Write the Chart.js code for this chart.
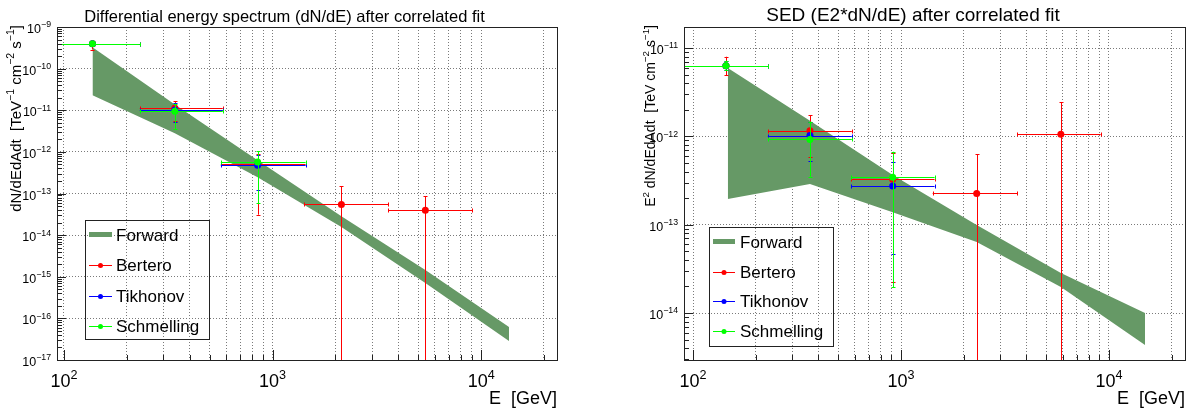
<!DOCTYPE html>
<html>
<head>
<meta charset="utf-8">
<title>Unfolded spectra</title>
<script src="https://cdn.jsdelivr.net/npm/chart.js@4.4.1/dist/chart.umd.min.js"></script>
<style>
  html, body { margin: 0; padding: 0; background: #fff; }
  #wrap { position: relative; width: 1199px; height: 409px; overflow: hidden; }
  #wrap canvas { position: absolute; top: 0; }
  #spec { left: 0; }
  #sed { left: 600px; }
</style>
</head>
<body>
<div id="wrap">
  <canvas id="spec" width="600" height="409"></canvas>
  <canvas id="sed" width="599" height="409"></canvas>
</div>
<script>
// ---------------------------------------------------------------------------
// Data: differential spectrum dN/dE  [TeV^-1 cm^-2 s^-1], energies in GeV
// ---------------------------------------------------------------------------
const specEnergy = [137, 340, 848, 2138, 5400];
const specBinLo  = [92, 231, 565, 1422, 3590];
const specBinHi  = [231, 577, 1440, 3590, 9060];

const specBertero     = [3.95e-10, 1.13e-11, 5.2e-13, 5.45e-14, 3.96e-14];
const specBerteroLo   = [2.88e-10, 5.5e-12, 3.1e-14, 0, 0];
const specBerteroHi   = [4.56e-10, 1.63e-11, 9.1e-13, 1.5e-13, 8.6e-14];
const specTikhonov    = [3.95e-10, 1.02e-11, 4.8e-13];
const specTikhonovLo  = [3.6e-10, 5.2e-12, 1.2e-13];
const specTikhonovHi  = [4.3e-10, 1.47e-11, 8.5e-13];
const specSchmelling   = [3.95e-10, 9.4e-12, 5.7e-13];
const specSchmellingLo = [3.6e-10, 3.6e-12, 5.95e-14];
const specSchmellingHi = [4.35e-10, 1.44e-11, 1.05e-12];

// forward-folded fit band (upper / lower edge)
const specBandE  = [137, 340, 848, 2138, 5400, 13600];
const specBandHi = [3.28e-10, 1.38e-11, 6.3e-13, 2.86e-14, 1.45e-15, 6.2e-17];
const specBandLo = [2.28e-11, 2.79e-12, 2.46e-13, 1.56e-14, 7.1e-16, 2.87e-17];

// ---------------------------------------------------------------------------
// Data: SED  E^2 dN/dE  [TeV cm^-2 s^-1]
// ---------------------------------------------------------------------------
const sedEnergy = [144, 365, 912, 2312, 5870];
const sedBinLo  = [90, 229, 578, 1420, 3625];
const sedBinHi  = [229, 580, 1450, 3625, 9120];

const sedBertero     = [6.3e-12, 1.16e-12, 3.26e-13, 2.26e-13, 1.06e-12];
const sedBerteroLo   = [4.94e-12, 5.8e-13, 2.22e-14, 0, 0];
const sedBerteroHi   = [7.97e-12, 1.74e-12, 6.4e-13, 6.3e-13, 2.43e-12];
const sedTikhonov    = [6.3e-12, 1.02e-12, 2.74e-13];
const sedTikhonovLo  = [5.6e-12, 5.2e-13, 4.6e-14];
const sedTikhonovHi  = [7.1e-12, 1.45e-12, 5.1e-13];
const sedSchmelling   = [6.3e-12, 9.24e-13, 3.44e-13];
const sedSchmellingLo = [5.7e-12, 3.5e-13, 1.95e-14];
const sedSchmellingHi = [7.2e-12, 1.47e-12, 6.7e-13];

const sedBandE  = [147, 365, 912, 2312, 5870, 14900];
const sedBandHi = [5.94e-12, 1.5e-12, 3.65e-13, 9.9e-14, 2.84e-14, 1.0e-14];
const sedBandLo = [1.95e-13, 2.88e-13, 1.38e-13, 6.37e-14, 1.97e-14, 4.35e-15];

// axis decades that get a label
const specDecadesY = [1e-17, 1e-16, 1e-15, 1e-14, 1e-13, 1e-12, 1e-11, 1e-10, 1e-9];
const sedDecadesY  = [1e-14, 1e-13, 1e-12, 1e-11];
const decadesX     = [100, 1000, 10000];

// ---------------------------------------------------------------------------
const FONT = '"Liberation Sans", Arial, Helvetica, sans-serif';
const BAND = 'rgb(102,153,102)';
const RED = '#ff0000', BLUE = '#0000ff', GREEN = '#00ff00';

// 1..9 x 10^n ticks inside [min, max]
function logSteps(min, max) {
    const out = [];
    for (let e = Math.floor(Math.log10(min)); e <= Math.ceil(Math.log10(max)); e++) {
        for (let m = 1; m <= 9; m++) {
            const v = m * Math.pow(10, e);
            if (v >= min * 0.9999 && v <= max * 1.0001) out.push(v);
        }
    }
    return out;
}
const isDecade = v => Math.abs(Math.log10(v) - Math.round(Math.log10(v))) < 1e-6;

// text with superscripts: parts = [[text, isSup], ...]
function runsWidth(ctx, parts, size) {
    let w = 0;
    parts.forEach(([t, sup]) => {
        ctx.font = (sup ? size * 0.7 : size) + 'px ' + FONT;
        w += ctx.measureText(t).width;
    });
    return w;
}
function drawRuns(ctx, parts, x, y, size, align) {
    const w = runsWidth(ctx, parts, size);
    let cx = align === 'right' ? x - w : align === 'center' ? x - w / 2 : x;
    ctx.textAlign = 'left';
    ctx.textBaseline = 'alphabetic';
    parts.forEach(([t, sup]) => {
        ctx.font = (sup ? size * 0.7 : size) + 'px ' + FONT;
        ctx.fillText(t, cx, sup ? y - size * 0.45 : y);
        cx += ctx.measureText(t).width;
    });
}
const powLabel = v => [['10', false], [String(Math.round(Math.log10(v))).replace('-', '\u2212'), true]];

function line(ctx, x0, y0, x1, y1) {
    ctx.beginPath();
    ctx.moveTo(x0, y0);
    ctx.lineTo(x1, y1);
    ctx.stroke();
}
const crisp = v => Math.round(v) + 0.5;

// error bars are drawn just before each point series so its markers sit on top
const errorBars = {
    id: 'errorBars',
    beforeDatasetDraw(chart, args) {
        const ds = chart.data.datasets[args.index];
        if (!ds.errLo) return;
        const { ctx, chartArea: a, scales: { x, y } } = chart;
        ctx.save();
        ctx.beginPath();
        ctx.rect(a.left, a.top, a.right - a.left, a.bottom - a.top);
        ctx.clip();
        ctx.strokeStyle = ds.borderColor;
        ctx.lineWidth = 1;
        ds.data.forEach((p, i) => {
            const px = crisp(x.getPixelForValue(p.x));
            const py = crisp(y.getPixelForValue(p.y));
            const x0 = x.getPixelForValue(ds.binLo[i]);
            const x1 = x.getPixelForValue(ds.binHi[i]);
            const y0 = y.getPixelForValue(ds.errLo[i]);
            const y1 = y.getPixelForValue(ds.errHi[i]);
            line(ctx, x0, py, x1, py);
            line(ctx, px, y0, px, y1);
            line(ctx, crisp(x0), py - 2, crisp(x0), py + 2);
            line(ctx, crisp(x1), py - 2, crisp(x1), py + 2);
            line(ctx, px - 2, crisp(y1), px + 2, crisp(y1));
            line(ctx, px - 2, crisp(y0), px + 2, crisp(y0));
        });
        ctx.restore();
    }
};

// frame, tick marks, labels, titles and the boxed legend
const rootFrame = {
    id: 'rootFrame',
    afterDraw(chart, args, o) {
        const { ctx, chartArea: a, scales: { x, y } } = chart;
        ctx.save();
        ctx.strokeStyle = '#222';
        ctx.fillStyle = '#000';
        ctx.lineWidth = 1;
        ctx.strokeRect(a.left + 0.5, a.top + 0.5, a.right - a.left, a.bottom - a.top);

        // ticks
        logSteps(x.min, x.max).forEach(v => {
            const px = crisp(x.getPixelForValue(v));
            line(ctx, px, a.bottom, px, a.bottom - (isDecade(v) ? 10 : 5));
        });
        logSteps(y.min, y.max).forEach(v => {
            const py = crisp(y.getPixelForValue(v));
            line(ctx, a.left, py, a.left + (isDecade(v) ? 9 : 5), py);
        });

        // tick labels
        o.decadesX.forEach(v => {
            drawRuns(ctx, powLabel(v), x.getPixelForValue(v), a.bottom + 27, 18, 'center');
        });
        o.decadesY.forEach(v => {
            drawRuns(ctx, powLabel(v), a.left - 6, y.getPixelForValue(v) + 6, 12.5, 'right');
        });

        // titles
        drawRuns(ctx, [[o.title, false]], o.titleX, o.titleY, o.titleSize, 'center');
        drawRuns(ctx, [[o.xTitle, false]], a.right, 404, 18, 'right');
        ctx.save();
        ctx.translate(o.yTitleX, 25);
        ctx.rotate(-Math.PI / 2);
        drawRuns(ctx, o.yTitle, 0, 0, o.yTitleSize, 'right');
        ctx.restore();

        // legend
        const L = o.legend;
        ctx.strokeStyle = '#222';
        ctx.strokeRect(crisp(L.x0), crisp(L.y0), Math.round(L.x1 - L.x0), Math.round(L.y1 - L.y0));
        chart.data.datasets.filter(d => d.legendRow !== undefined).forEach(d => {
            const ly = L.rows[d.legendRow];
            if (d.legendBand) {
                ctx.fillStyle = BAND;
                ctx.fillRect(L.sx0, ly - 3, L.sx1 - L.sx0, 5);
            } else {
                ctx.strokeStyle = d.borderColor;
                line(ctx, L.sx0, crisp(ly), L.sx1, crisp(ly));
                ctx.fillStyle = d.borderColor;
                ctx.beginPath();
                ctx.arc((L.sx0 + L.sx1) / 2, ly + 0.5, 2.5, 0, Math.PI * 2);
                ctx.fill();
            }
            ctx.fillStyle = '#000';
            drawRuns(ctx, [[d.label, false]], L.tx, ly + 6, 17, 'left');
        });
        ctx.restore();
    }
};

function pointSeries(label, color, order, row, E, v, lo, hi, binLo, binHi) {
    return {
        label, order, legendRow: row,
        data: E.slice(0, v.length).map((e, i) => ({ x: e, y: v[i] })),
        errLo: lo, errHi: hi,
        binLo, binHi,
        borderColor: color,
        backgroundColor: color,
        pointRadius: 3.5,
        pointBorderWidth: 0,
        showLine: false
    };
}

function bandSeries(E, hi, lo) {
    return [
        {
            label: 'Forward', order: 5, legendRow: 0, legendBand: true,
            data: E.map((e, i) => ({ x: e, y: hi[i] })),
            showLine: true, borderWidth: 0, pointRadius: 0,
            backgroundColor: BAND, fill: '+1'
        },
        {
            label: 'Forward lower', order: 5,
            data: E.map((e, i) => ({ x: e, y: lo[i] })),
            showLine: true, borderWidth: 0, pointRadius: 0, fill: false
        }
    ];
}

function axis(min, max, ticks, fixed) {
    return {
        type: 'logarithmic',
        min, max,
        bounds: 'data',
        afterBuildTicks: s => { s.ticks = ticks.map(v => ({ value: v })); },
        afterFit: s => { if (fixed.width) s.width = fixed.width; if (fixed.height) s.height = fixed.height; },
        ticks: { display: false },
        grid: { color: '#7a7a7a', lineWidth: 1, drawTicks: false },
        border: { display: false, dash: [1, 2] }
    };
}

function makeChart(id, cfg) {
    return new Chart(document.getElementById(id), {
        type: 'scatter',
        data: {
            datasets: [
                ...bandSeries(cfg.bandE, cfg.bandHi, cfg.bandLo),
                pointSeries('Bertero', RED, 3, 1, cfg.E, cfg.bertero[0], cfg.bertero[1], cfg.bertero[2], cfg.binLo, cfg.binHi),
                pointSeries('Tikhonov', BLUE, 2, 2, cfg.E, cfg.tikhonov[0], cfg.tikhonov[1], cfg.tikhonov[2], cfg.binLo, cfg.binHi),
                pointSeries('Schmelling', GREEN, 1, 3, cfg.E, cfg.schmelling[0], cfg.schmelling[1], cfg.schmelling[2], cfg.binLo, cfg.binHi)
            ]
        },
        options: {
            responsive: false,
            animation: false,
            events: [],
            layout: { padding: { left: 0, top: 27, right: cfg.padRight, bottom: 0 } },
            scales: {
                x: axis(cfg.xMin, cfg.xMax, logSteps(cfg.xMin, cfg.xMax), { height: 49 }),
                y: axis(cfg.yMin, cfg.yMax, cfg.decadesY, { width: cfg.yWidth })
            },
            plugins: {
                legend: { display: false },
                tooltip: { enabled: false },
                title: { display: false },
                rootFrame: cfg.frame
            }
        },
        plugins: [errorBars, rootFrame]
    });
}

makeChart('spec', {
    E: specEnergy, binLo: specBinLo, binHi: specBinHi,
    bertero: [specBertero, specBerteroLo, specBerteroHi],
    tikhonov: [specTikhonov, specTikhonovLo, specTikhonovHi],
    schmelling: [specSchmelling, specSchmellingLo, specSchmellingHi],
    bandE: specBandE, bandHi: specBandHi, bandLo: specBandLo,
    xMin: 92.6, xMax: 23100, yMin: 1e-17, yMax: 1e-9,
    decadesY: specDecadesY, yWidth: 57, padRight: 43,
    frame: {
        decadesX, decadesY: specDecadesY,
        title: 'Differential energy spectrum (dN/dE) after correlated fit',
        titleX: 284.5, titleY: 21.5, titleSize: 16.5,
        xTitle: 'E  [GeV]',
        yTitleX: 20.5, yTitleSize: 15,
        yTitle: [['dN/dEdAdt  [TeV', false], ['\u22121', true], [' cm', false], ['\u22122', true], [' s', false], ['\u22121', true], [']', false]],
        legend: { x0: 85, y0: 220, x1: 209, y1: 339, sx0: 89, sx1: 112, tx: 116, rows: [235, 265, 296, 326] }
    }
});

makeChart('sed', {
    E: sedEnergy, binLo: sedBinLo, binHi: sedBinHi,
    bertero: [sedBertero, sedBerteroLo, sedBerteroHi],
    tikhonov: [sedTikhonov, sedTikhonovLo, sedTikhonovHi],
    schmelling: [sedSchmelling, sedSchmellingLo, sedSchmellingHi],
    bandE: sedBandE, bandHi: sedBandHi, bandLo: sedBandLo,
    xMin: 90.5, xMax: 23200, yMin: 2.94e-15, yMax: 1.73e-11,
    decadesY: sedDecadesY, yWidth: 84, padRight: 14,
    frame: {
        decadesX, decadesY: sedDecadesY,
        title: 'SED (E2*dN/dE) after correlated fit',
        titleX: 313, titleY: 20.7, titleSize: 19,
        xTitle: 'E  [GeV]',
        yTitleX: 55, yTitleSize: 14,
        yTitle: [['E', false], ['2', true], [' dN/dEdAdt  [TeV cm', false], ['\u22122', true], [' s', false], ['\u22121', true], [']', false]],
        legend: { x0: 109, y0: 227, x1: 233, y1: 346, sx0: 113, sx1: 135, tx: 140, rows: [242, 272, 301, 331] }
    }
});
</script>
</body>
</html>
